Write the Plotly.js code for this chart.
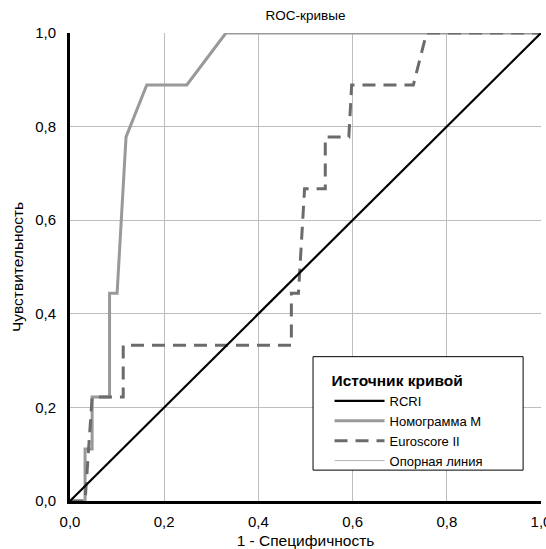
<!DOCTYPE html>
<html>
<head>
<meta charset="utf-8">
<script src="https://cdn.plot.ly/plotly-3.0.1.min.js"></script>
<style>html,body{margin:0;padding:0;background:#fff;}#chart{width:546px;height:549px;}</style>
</head>
<body>
<div id="chart"></div>
<script>
// Data
const rcriX = [0, 1];
const rcriY = [0, 1];
const nomoX = [0, 0.032, 0.032, 0.047, 0.047, 0.084, 0.084, 0.100, 0.119, 0.163, 0.248, 0.331, 1];
const nomoY = [0, 0, 0.111, 0.111, 0.222, 0.222, 0.444, 0.444, 0.778, 0.889, 0.889, 1, 1];
const euroX = [0, 0.032, 0.047, 0.113, 0.113, 0.470, 0.470, 0.485, 0.498, 0.542, 0.542, 0.592, 0.598, 0.729, 0.757, 1];
const euroY = [0, 0, 0.222, 0.222, 0.333, 0.333, 0.444, 0.444, 0.667, 0.667, 0.778, 0.778, 0.889, 0.889, 1, 1];
const refX = [0, 1];
const refY = [0, 1];
const tickVals = [0, 0.2, 0.4, 0.6, 0.8, 1.0];

const fam = 'Liberation Sans, Arial, sans-serif';

const traces = [
  {x: refX, y: refY, mode: 'lines', name: 'Опорная линия', line: {color: '#b4b4b4', width: 1}, legendrank: 4, cliponaxis: false},
  {x: nomoX, y: nomoY, mode: 'lines', name: 'Номограмма М', line: {color: '#999999', width: 3}, legendrank: 2, cliponaxis: false},
  {x: euroX, y: euroY, mode: 'lines', name: 'Euroscore II', line: {color: '#6b6b6b', width: 3, dash: '13px,8px'}, legendrank: 3, cliponaxis: false},
  {x: rcriX, y: rcriY, mode: 'lines', name: 'RCRI', line: {color: '#000000', width: 2.2}, legendrank: 1, cliponaxis: false}
];

const layout = {
  width: 546, height: 549,
  margin: {l: 70, r: 5, t: 33, b: 48},
  paper_bgcolor: '#fff', plot_bgcolor: '#fff',
  separators: ', ',
  font: {family: fam, size: 15, color: '#000'},
  showlegend: true,
  title: {text: 'ROC-кривые', font: {family: fam, size: 13.5, color: '#000'}, x: 0.5595, xanchor: 'center', y: 0.972, yanchor: 'middle'},
  xaxis: {
    range: [0, 1], tickvals: tickVals, tickformat: '.1f',
    showgrid: true, gridcolor: '#bdbdbd', gridwidth: 1, zeroline: false,
    showline: true, linecolor: '#000', linewidth: 3,
    ticks: 'outside', ticklen: 5, tickcolor: 'rgba(0,0,0,0)',
    ticklabeloverflow: 'allow',
    tickfont: {family: fam, size: 15, color: '#000'},
    title: {text: '1 - Специфичность', font: {family: fam, size: 15.5, color: '#000'}, standoff: 7},
    fixedrange: true
  },
  yaxis: {
    range: [0, 1], tickvals: tickVals, tickformat: '.1f',
    showgrid: true, gridcolor: '#bdbdbd', gridwidth: 1, zeroline: false,
    showline: true, linecolor: '#000', linewidth: 3,
    ticks: 'outside', ticklen: 8, tickcolor: 'rgba(0,0,0,0)',
    tickfont: {family: fam, size: 15, color: '#000'},
    title: {text: 'Чувствительность', font: {family: fam, size: 15.5, color: '#000'}, standoff: 8},
    fixedrange: true
  },
  shapes: [
    {type: 'rect', xref: 'paper', yref: 'paper', x0: 0.516, x1: 0.962, y0: 0.066, y1: 0.3084,
     fillcolor: '#fff', line: {color: '#000', width: 1}, layer: 'above'}
  ],
  legend: {
    x: 0.551, y: 0.289, xanchor: 'left', yanchor: 'top',
    bgcolor: 'rgba(0,0,0,0)', borderwidth: 0,
    font: {family: fam, size: 13, color: '#000'},
    title: {text: '<b>Источник кривой</b>', font: {family: fam, size: 15.5, color: '#000'}},
    tracegroupgap: 0, itemwidth: 50
  }
};

Plotly.newPlot('chart', traces, layout, {displayModeBar: false, staticPlot: true});
</script>
</body>
</html>
